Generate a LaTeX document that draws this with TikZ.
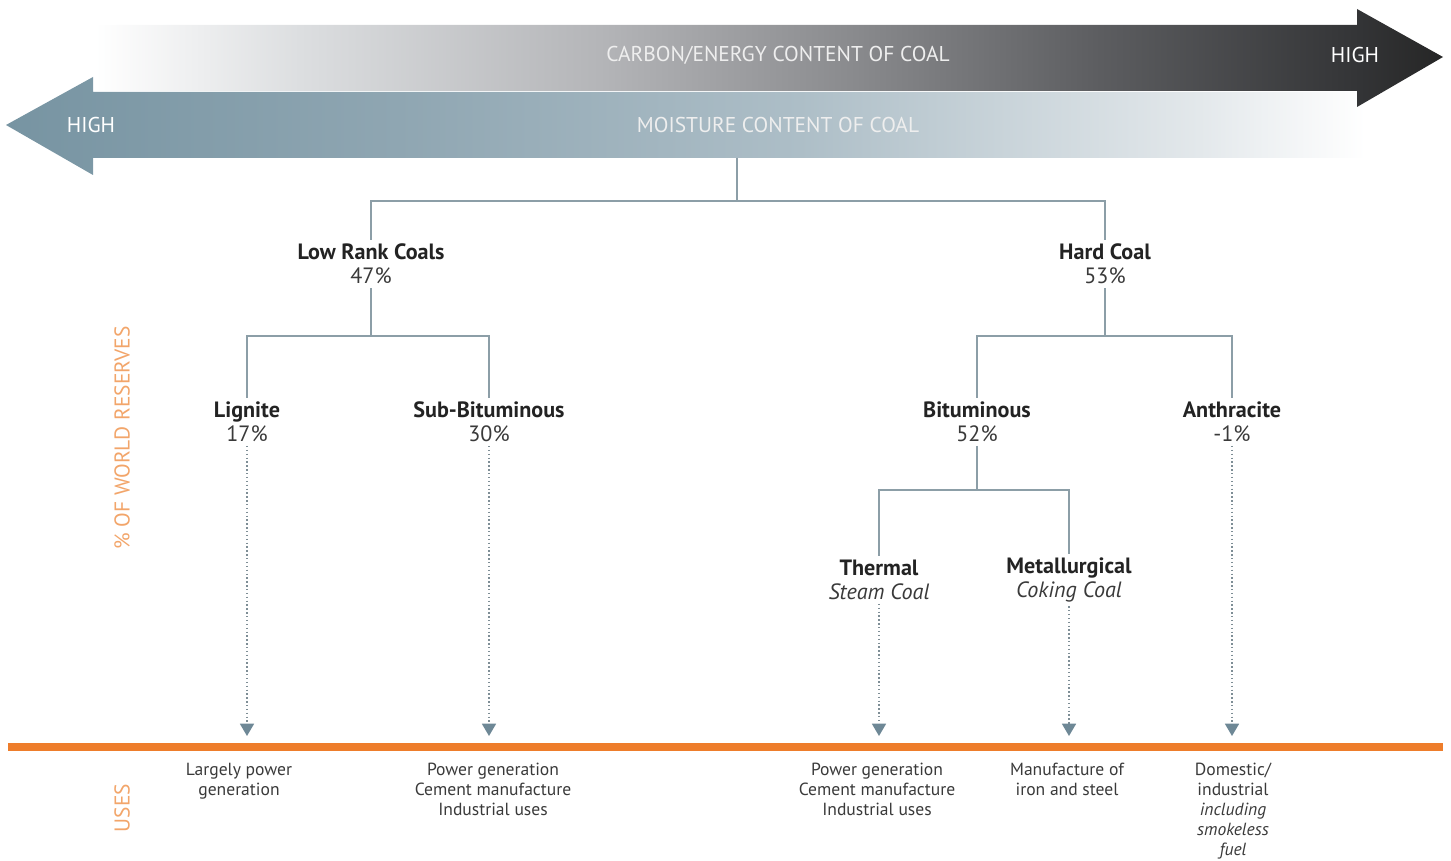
\documentclass[tikz,border=0pt]{standalone}
\usepackage{fontspec}
\setmainfont{PT Sans}
\usetikzlibrary{arrows.meta}

% palette
\definecolor{treeline}{HTML}{8C9EA7}
\definecolor{tipcol}{HTML}{6E8896}
\definecolor{usesorange}{HTML}{EE7D2B}
\definecolor{sidelabel}{HTML}{F2A56A}
\definecolor{inkdark}{HTML}{232323}
\definecolor{inkmid}{HTML}{3A3A3A}
\definecolor{arrowtext}{HTML}{EEEEEE}

% carbon arrow: white -> charcoal
\definecolor{cA}{HTML}{FFFFFF}
\definecolor{cB}{HTML}{DCDEE0}
\definecolor{cC}{HTML}{B4B5B8}
\definecolor{cD}{HTML}{8A8B8E}
\definecolor{cE}{HTML}{5C5D60}
\definecolor{cF}{HTML}{333436}
\definecolor{cG}{HTML}{262626}
\pgfdeclarehorizontalshading{carbonshade}{100bp}{%
  color(0bp)=(cA); color(25bp)=(cA); color(32.6bp)=(cB); color(43.7bp)=(cC);
  color(53bp)=(cD); color(62.3bp)=(cE); color(71.9bp)=(cF); color(75bp)=(cG);
  color(100bp)=(cG)}

% moisture arrow: steel blue -> white
\definecolor{mA}{HTML}{7794A2}
\definecolor{mB}{HTML}{8FA6B2}
\definecolor{mC}{HTML}{ADBEC7}
\definecolor{mD}{HTML}{C8D3D9}
\definecolor{mE}{HTML}{E3E8EB}
\definecolor{mF}{HTML}{FFFFFF}
\pgfdeclarehorizontalshading{moistshade}{100bp}{%
  color(0bp)=(mA); color(25bp)=(mA); color(39.4bp)=(mB); color(54.2bp)=(mC);
  color(61.5bp)=(mD); color(68.9bp)=(mE); color(75bp)=(mF); color(100bp)=(mF)}

\begin{document}
\begin{tikzpicture}[x=0.02cm, y=-0.02cm,
  tree/.style={draw=treeline, line width=0.9pt},
  dotline/.style={draw=treeline!90!black, line width=0.8pt, dash pattern=on 0.8pt off 1.4pt,
    -{Triangle[width=8pt,length=7pt,color=tipcol,fill=tipcol]}},
  rank/.style={align=center, inner sep=2pt, text=inkmid,
    font=\fontsize{12.6}{13.8}\selectfont},
  usetext/.style={align=center, inner sep=0pt, anchor=north, text=inkmid,
    font=\fontsize{10}{11.3}\selectfont},
  bartext/.style={text=arrowtext, inner sep=0pt, font=\fontsize{12.2}{13}\selectfont},
  sidetext/.style={text=sidelabel, rotate=90, inner sep=0pt, font=\fontsize{12.2}{13}\selectfont}]

\useasboundingbox (0,0) rectangle (1451,861);

% moisture content arrow (pointing left)
\shade[shading=moistshade]
  (1365,92) -- (93,92) -- (93,77) -- (6,125) -- (93,175) -- (93,158) -- (1365,158) -- cycle;
% carbon / energy content arrow (pointing right)
\shade[shading=carbonshade]
  (95,25) -- (1357,25) -- (1357,9) -- (1443,57) -- (1357,107) -- (1357,91) -- (95,91) -- cycle;

\node[bartext] (carbon) at (778,55) {CARBON/ENERGY CONTENT OF COAL};
\node[bartext, text=white] (highc) at (1355,55) {HIGH};
\node[bartext] (moist) at (778,125) {MOISTURE CONTENT OF COAL};
\node[bartext, text=white] (highm) at (91,125) {HIGH};

% side labels
\node[sidetext] (reserves) at (122,438) {\% OF WORLD RESERVES};
\node[sidetext] (useslbl) at (122,808) {USES};

% rank tree
\coordinate (split) at (737,158);
\node[rank] (low) at (371,264) {\textbf{\color{inkdark}Low Rank Coals}\\47\%};
\node[rank] (hard) at (1105,264) {\textbf{\color{inkdark}Hard Coal}\\53\%};
\node[rank] (lig) at (247,422) {\textbf{\color{inkdark}Lignite}\\17\%};
\node[rank] (sub) at (489,422) {\textbf{\color{inkdark}Sub-Bituminous}\\30\%};
\node[rank] (bit) at (977,422) {\textbf{\color{inkdark}Bituminous}\\52\%};
\node[rank] (ant) at (1232,422) {\textbf{\color{inkdark}Anthracite}\\-1\%};
\node[rank] (therm) at (879,580) {\textbf{\color{inkdark}Thermal}\\\textit{Steam Coal}};
\node[rank] (metal) at (1069,580) {\textbf{\color{inkdark}Metallurgical}\\\textit{Coking Coal}};

\coordinate (topbar) at (737,201);
\coordinate (lowbar) at (371,336);
\coordinate (hardbar) at (1105,336);
\coordinate (bitbar) at (977,490);

\draw[tree] (split) -- (topbar) -| (low.north);
\draw[tree] (topbar) -| (hard.north);
\draw[tree] (low.south) -- (lowbar) -| (lig.north);
\draw[tree] (lowbar) -| (sub.north);
\draw[tree] (hard.south) -- (hardbar) -| (bit.north);
\draw[tree] (hardbar) -| (ant.north);
\draw[tree] (bit.south) -- (bitbar) -| (therm.north);
\draw[tree] (bitbar) -| (metal.north);

% uses baseline
\coordinate (usesL) at (8,747);
\coordinate (usesR) at (1443,747);
\draw[usesorange, line width=4.6pt] (usesL) -- (usesR);

% arrow ends just above the orange line
\coordinate (elig) at (247,736);
\coordinate (esub) at (489,736);
\coordinate (ether) at (879,736);
\coordinate (emet) at (1069,736);
\coordinate (eant) at (1232,736);
\draw[dotline] (lig.south) -- (elig);
\draw[dotline] (sub.south) -- (esub);
\draw[dotline] (therm.south) -- (ether);
\draw[dotline] (metal.south) -- (emet);
\draw[dotline] (ant.south) -- (eant);

% uses
\node[usetext] (ulig) at (239,763) {Largely power\\generation};
\node[usetext] (usub) at (493,763) {Power generation\\Cement manufacture\\Industrial uses};
\node[usetext] (uther) at (877,763) {Power generation\\Cement manufacture\\Industrial uses};
\node[usetext] (umet) at (1067,763) {Manufacture of\\iron and steel};
\node[usetext] (uant) at (1233,763) {Domestic/\\industrial\\\textit{including}\\\textit{smokeless}\\\textit{fuel}};
\end{tikzpicture}
\end{document}
